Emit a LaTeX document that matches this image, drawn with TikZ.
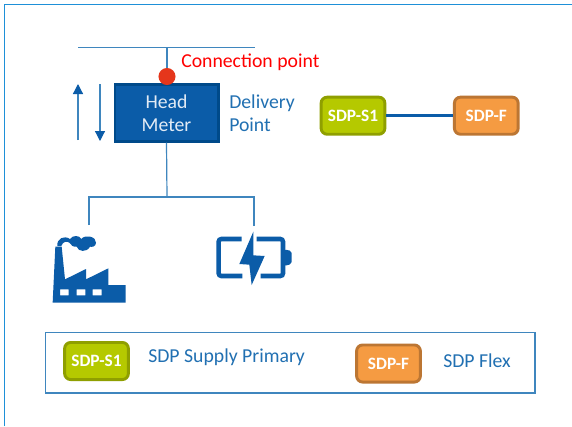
\documentclass[tikz,border=0pt]{standalone}
\usepackage{fontspec}
\usetikzlibrary{arrows.meta}
\setmainfont{Carlito}
\definecolor{mainblue}{HTML}{0B5CA8}
\definecolor{darkblue}{HTML}{004A8A}
\definecolor{linkblue}{HTML}{3F86BE}
\definecolor{textblue}{HTML}{2170B2}
\definecolor{framecol}{HTML}{1E90D8}
\definecolor{greenfill}{HTML}{B5C900}
\definecolor{greenedge}{HTML}{8F9F00}
\definecolor{orangefill}{HTML}{F59B42}
\definecolor{orangeedge}{HTML}{BC7633}
\definecolor{redpoint}{HTML}{E5361B}
\tikzset{
  x=0.75pt,y=-0.75pt,
  pill/.style={rounded corners=4.5pt,line width=2.2pt,minimum width=47.8pt,minimum height=27.8pt,inner sep=0pt,text=white,font=\fontsize{13pt}{15pt}\selectfont\bfseries},
  greenpill/.style={pill,draw=greenedge,fill=greenfill},
  orangepill/.style={pill,draw=orangeedge,fill=orangefill},
  link/.style={draw=linkblue,line width=0.9pt},
  flow/.style={link,-{Triangle[width=7.5pt,length=7.5pt,color=mainblue]}},
  label/.style={text=textblue,font=\fontsize{14.8pt}{17pt}\selectfont,inner sep=0pt},
}
\begin{document}
\begin{tikzpicture}
\useasboundingbox (0,0) rectangle (572,426);
\fill[white] (0,0) rectangle (572,426);
\draw[framecol,line width=1pt] (4.5,426) -- (4.5,4.5) -- (572,4.5);
% connection line and meter
\coordinate (busL) at (78,47.5);
\coordinate (busR) at (255,47.5);
\coordinate (busM) at (167,47.5);
\node[rectangle,draw=darkblue,fill=mainblue,line width=2pt,minimum width=77.5pt,minimum height=42.5pt,inner sep=0pt,text=white!88!mainblue,font=\fontsize{14.8pt}{17.2pt}\selectfont,align=center] (meter) at (166.5,113) {Head\\Meter};
\node[circle,fill=redpoint,minimum size=12.8pt,inner sep=0pt] (cp) at (167,76.5) {};
\draw[link] (busL) -- (busR);
\draw[link] (busM) -- (cp);
\node[anchor=west,text=red,font=\fontsize{14.8pt}{17pt}\selectfont,inner sep=0pt] (cplabel) at (181,62.5) {Connection point};
\node[label,anchor=west,align=left,font=\fontsize{14.8pt}{17.2pt}\selectfont] (dp) at (229,113) {Delivery\\Point};
% flow arrows
\coordinate (upA) at (78,140); \coordinate (upB) at (78,84);
\coordinate (dnA) at (100,84); \coordinate (dnB) at (100,141);
\draw[flow] (upA) -- (upB);
\draw[flow] (dnA) -- (dnB);
% branch
\coordinate (j) at (167,197);
\coordinate (fTop) at (89,225);
\coordinate (bTop) at (254,226);
\draw[link] (meter.south) -- (j);
\draw[link] (fTop) |- (j);
\draw[link] (bTop) |- (j);
% factory
\begin{scope}[shift={(40,190)},x=0.25pt,y=-0.25pt]
\fill[mainblue,even odd rule]
  (46,170) -- (38,338) -- (257,338) -- (257,285) -- (205,285) -- (205,235)
  -- (138,268) -- (138,237) -- (75,268) -- (65,170) -- cycle
  (60,298) rectangle (86,316) (110,298) rectangle (136,316) (158,298) rectangle (185,316);
\fill[mainblue] (52,168) .. controls (50,145) and (72,135) .. (90,147)
  .. controls (98,135) and (118,135) .. (124,147)
  .. controls (135,132) and (170,140) .. (168,158)
  .. controls (168,170) and (155,172) .. (150,170)
  .. controls (140,188) and (115,186) .. (110,170)
  .. controls (100,172) and (92,165) .. (88,158)
  .. controls (80,152) and (68,155) .. (64,168) -- cycle;
% battery
\draw[mainblue,line width=3.4pt,rounded corners=2pt] (605,147) -- (536,147) -- (536,258) -- (607,258);
\draw[mainblue,line width=3.4pt,rounded corners=2pt] (650,147) -- (729,147) -- (729,258) -- (662,258);
\fill[mainblue,rounded corners=1.5pt] (732,178) -- (755,183) -- (755,222) -- (732,228) -- cycle;
\fill[mainblue] (640,125) -- (598,222) -- (628,224) -- (635,285) -- (674,198) -- (640,196) -- cycle;
\end{scope}
% top pills
\node[greenpill] (s1) at (353,115.7) {SDP-S1};
\node[orangepill] (f) at (486.3,115.7) {SDP-F};
\draw[mainblue,line width=2.2pt] (s1) -- (f);
% legend
\draw[linkblue,line width=1.1pt] (45.7,332.5) rectangle (535,393);
\node[greenpill] (ls1) at (96.5,361) {SDP-S1};
\node[label,anchor=west] (ls1t) at (148,357) {SDP Supply Primary};
\node[orangepill] (lf) at (388.5,363.5) {SDP-F};
\node[label,anchor=west] (lft) at (443,361) {SDP Flex};
\end{tikzpicture}
\end{document}
